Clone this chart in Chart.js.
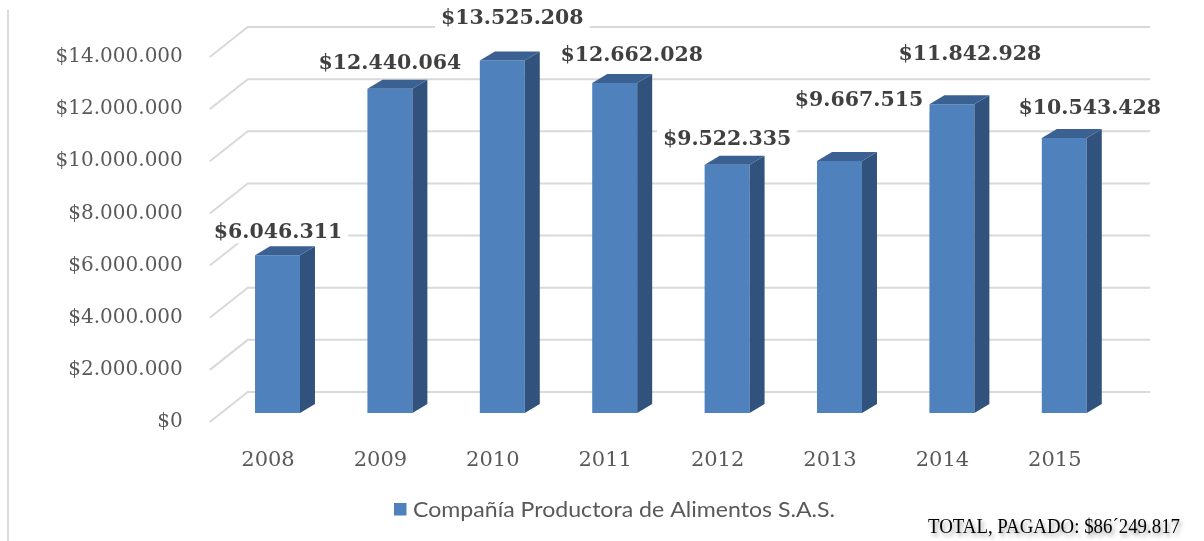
<!DOCTYPE html>
<html>
<head>
<meta charset="utf-8">
<script src="https://cdn.jsdelivr.net/npm/chart.js@4/dist/chart.umd.min.js"></script>
<style>
  html, body { margin: 0; padding: 0; background: #ffffff; }
  #wrap { width: 1204px; height: 541px; }
</style>
</head>
<body>
<div id="wrap"><canvas id="c" width="1204" height="541"></canvas></div>
<script>
// ---- data ----
const years = ['2008', '2009', '2010', '2011', '2012', '2013', '2014', '2015'];
const paid = [6046311, 12440064, 13525208, 12662028, 9522335, 9667515, 11842928, 10543428];
const seriesName = 'Compañía Productora de Alimentos S.A.S.';
const totalNote = 'TOTAL, PAGADO: $86´249.817';
const yMin = 0, yMax = 14000000, yStep = 2000000;

// ---- presentation (not data) ----
const labelShift = [[0.5, -24], [0, -26], [10, -43], [17, -28], [0, -26], [19.5, -61], [18, -51], [25.5, -30]];
const BAR_DX = 9.5, BAR_DY = -9;     // bar plane offset from the label plane
const SIDE_DX = 15, SIDE_DY = -9;    // bar depth
const WALL_DX = 38, WALL_DY = -30;   // back wall depth

function money(v) {
  return '$' + String(Math.round(v)).replace(/\B(?=(\d{3})+(?!\d))/g, '.');
}

const threeD = {
  id: 'threeD',
  beforeDatasetsDraw(chart) {
    const { ctx, chartArea, scales } = chart;
    const y = scales.y;
    ctx.save();
    // frame line on the left
    ctx.strokeStyle = '#D9D9D9';
    ctx.lineWidth = 2;
    ctx.beginPath();
    ctx.moveTo(8, 10);
    ctx.lineTo(8, 541);
    ctx.stroke();
    // back wall and side gridlines
    y.ticks.forEach(t => {
      const py = y.getPixelForValue(t.value);
      ctx.beginPath();
      ctx.moveTo(chartArea.left - 2, py);
      ctx.lineTo(chartArea.left - 2 + WALL_DX, py + WALL_DY);
      ctx.lineTo(chartArea.right + 39, py + WALL_DY);
      ctx.stroke();
    });
    ctx.restore();
    ctx.save();
    ctx.translate(BAR_DX, BAR_DY);
  },
  afterDatasetsDraw(chart) {
    const { ctx } = chart;
    const meta = chart.getDatasetMeta(0);
    meta.data.forEach(bar => {
      const p = bar.getProps(['x', 'y', 'base', 'width'], true);
      const l = p.x - p.width / 2, r = p.x + p.width / 2, t = p.y, b = p.base;
      // side face
      ctx.fillStyle = '#31527D';
      ctx.beginPath();
      ctx.moveTo(r, t);
      ctx.lineTo(r + SIDE_DX, t + SIDE_DY);
      ctx.lineTo(r + SIDE_DX, b + SIDE_DY);
      ctx.lineTo(r, b);
      ctx.closePath();
      ctx.fill();
      // top face
      ctx.fillStyle = '#3B6192';
      ctx.beginPath();
      ctx.moveTo(l, t);
      ctx.lineTo(l + SIDE_DX, t + SIDE_DY);
      ctx.lineTo(r + SIDE_DX, t + SIDE_DY);
      ctx.lineTo(r, t);
      ctx.closePath();
      ctx.fill();
    });
    ctx.restore();
    // data labels
    ctx.save();
    ctx.font = 'bold 20.5px "DejaVu Serif"';
    ctx.textAlign = 'center';
    ctx.textBaseline = 'middle';
    meta.data.forEach((bar, i) => {
      const p = bar.getProps(['x', 'y'], true);
      const cx = p.x + BAR_DX + labelShift[i][0];
      const cy = p.y + BAR_DY + labelShift[i][1];
      const txt = money(paid[i]);
      const w = ctx.measureText(txt).width;
      ctx.fillStyle = '#ffffff';
      ctx.fillRect(cx - w / 2 - 6, cy - 12, w + 12, 24);
      ctx.fillStyle = '#404040';
      ctx.fillText(txt, cx, cy + 1);
    });
    ctx.restore();
  },
  afterDraw(chart) {
    const { ctx } = chart;
    // legend
    ctx.save();
    ctx.fillStyle = '#4F81BD';
    ctx.fillRect(394, 503, 12.5, 12.5);
    ctx.font = '22px Lato';
    ctx.fillStyle = '#595959';
    ctx.textBaseline = 'alphabetic';
    const lw = ctx.measureText(seriesName).width;
    ctx.translate(413, 517);
    ctx.scale(422 / lw, 1);
    ctx.fillText(seriesName, 0, 0);
    ctx.restore();
    // total note
    ctx.save();
    ctx.font = '20px "Liberation Serif"';
    const tw = ctx.measureText(totalNote).width;
    ctx.shadowColor = 'rgba(0,0,0,0.4)';
    ctx.shadowBlur = 4;
    ctx.shadowOffsetX = 2;
    ctx.shadowOffsetY = 3;
    ctx.fillStyle = '#000000';
    ctx.translate(928, 533);
    ctx.scale(252 / tw, 1);
    ctx.fillText(totalNote, 0, 0);
    ctx.restore();
  }
};

new Chart(document.getElementById('c'), {
  type: 'bar',
  data: {
    labels: years,
    datasets: [{
      label: seriesName,
      data: paid,
      backgroundColor: '#4F81BD',
      borderWidth: 0,
      barPercentage: 0.4,
      categoryPercentage: 1,
      clip: false
    }]
  },
  options: {
    responsive: false,
    animation: false,
    layout: { padding: { top: 57, right: 93, bottom: 0, left: 0 } },
    plugins: { legend: { display: false }, tooltip: { enabled: false } },
    scales: {
      x: {
        grid: { display: false },
        border: { display: false },
        ticks: { font: { family: 'DejaVu Serif', size: 21 }, color: '#595959', padding: 18 },
        afterFit(s) { s.height = 119; }
      },
      y: {
        min: yMin,
        max: yMax,
        grid: { display: false, drawTicks: false },
        border: { display: false },
        ticks: {
          stepSize: yStep,
          callback: v => money(v),
          font: { family: 'DejaVu Serif', size: 20 },
          color: '#595959',
          padding: 29
        },
        afterFit(s) { s.width = 211.8; }
      }
    }
  },
  plugins: [threeD]
});
</script>
</body>
</html>
